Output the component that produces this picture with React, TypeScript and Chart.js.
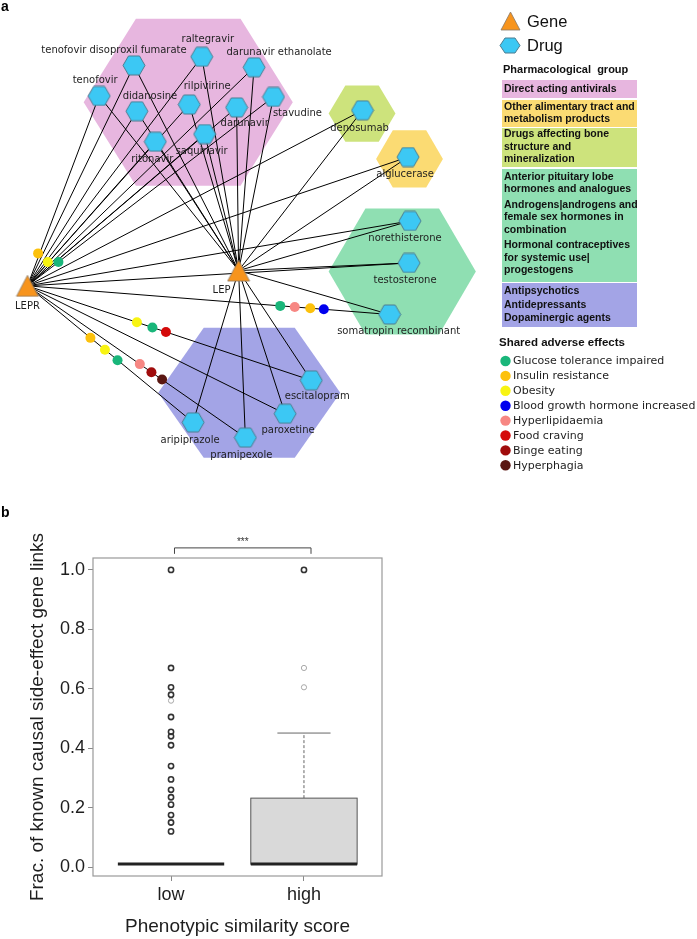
import React, { useEffect, useRef } from 'react';
import { Chart, registerables } from 'chart.js';

Chart.register(...registerables);

// ================= Panel a : gene–drug network =================
const geneNames = ['LEPR', 'LEP'];
const geneX = [17, 235];
const geneY = [288, 272];

const drugNames = [
  'tenofovir disoproxil fumarate', 'raltegravir', 'darunavir ethanolate', 'tenofovir',
  'didanosine', 'rilpivirine', 'darunavir', 'stavudine', 'ritonavir', 'saquinavir',
  'denosumab', 'alglucerase', 'norethisterone', 'testosterone', 'somatropin recombinant',
  'escitalopram', 'paroxetine', 'pramipexole', 'aripiprazole',
];
const drugGroup = [0, 0, 0, 0, 0, 0, 0, 0, 0, 0, 2, 1, 3, 3, 3, 4, 4, 4, 4];
const drugX = [127, 197, 251, 91, 130, 184, 233, 271, 149, 200, 363, 410, 412, 411, 391, 310, 283, 242, 188];
const drugY = [57, 48, 59, 89, 105, 98, 101, 90, 137, 129, 104, 153, 220, 264, 318, 387, 422, 447, 431];

// links: every drug is linked to both genes
const linksLEPR = [0, 1, 2, 3, 4, 5, 6, 7, 8, 9, 10, 11, 12, 13, 14, 15, 16, 17, 18];
const linksLEP = [0, 1, 2, 3, 4, 5, 6, 7, 8, 9, 10, 11, 12, 13, 14, 15, 16, 17, 18];

// pharmacological groups
const groupLegendLines = [
  [['Direct acting antivirals']],
  [['Other alimentary tract and', 'metabolism products']],
  [['Drugs affecting bone', 'structure and', 'mineralization']],
  [['Anterior pituitary lobe', 'hormones and analogues'],
   ['Androgens|androgens and', 'female sex hormones in', 'combination'],
   ['Hormonal contraceptives', 'for systemic use|', 'progestogens']],
  [['Antipsychotics', 'Antidepressants', 'Dopaminergic agents']],
];
const groupColors = ['#e7b6df', '#fbdb73', '#cde37c', '#8fdfb2', '#a3a4e6'];
const groupHexX = [183, 411.5, 362.5, 404, 246];
const groupHexY = [95.5, 155, 107.5, 273, 400];
const groupHexRx = [108, 34.5, 34.5, 76, 94];
const groupHexRy = [87.5, 30, 29.5, 66, 68];

// shared adverse effects
const sideEffectNames = [
  'Glucose tolerance impaired', 'Insulin resistance', 'Obesity', 'Blood growth hormone increased',
  'Hyperlipidaemia', 'Food craving', 'Binge eating', 'Hyperphagia',
];
const sideEffectColors = ['#19b67a', '#fcc10c', '#f8f412', '#0000ee', '#f78783', '#d40a0a', '#a00c0c', '#5a1712'];
const dotEffect = [1, 2, 0, 0, 4, 1, 3, 2, 0, 5, 1, 2, 0, 4, 6, 7];
const dotX = [28, 38, 49, 278, 293, 309, 323, 130, 146, 160, 82, 97, 110, 133, 145, 156];
const dotY = [254, 263, 263, 309, 310.2, 311.4, 312.5, 326.2, 331.6, 336.3, 342.5, 355, 366, 370, 378.5, 386.2];

// label placement (style)
const drugLabelDx = [-20, 6, 25, -4, 13, 18, 8, 24, -3, -3, -3, -3, -5, -4, 9, 6, 3, -4, -3];
const drugLabelDy = [-15, -17, -15, -16, -15, -18, 16, 17, 18, 17, 18, 17, 17, 17, 17, 16, 17, 18, 18];
const geneLabelDx = [0, -17];
const geneLabelDy = [21, 20];

// ================= Panel b : box plot =================
const boxCategories = ['low', 'high'];
const boxQ1 = [0.01, 0.01];
const boxMedian = [0.01, 0.01];
const boxQ3 = [0.01, 0.232];
const whiskerLo = [0.01, 0.01];
const whiskerHi = [0.01, 0.451];
const lowOutliers = [1.0, 0.67, 0.605, 0.58, 0.505, 0.455, 0.44, 0.41, 0.34, 0.295, 0.26, 0.235, 0.21, 0.175, 0.15, 0.12];
const lowOutliersFaint = [0.56];
const highOutliers = [1.0];
const highOutliersFaint = [0.67, 0.605];
const yTickValues = [0, 0.2, 0.4, 0.6, 0.8, 1.0];
const sigFrom = 1.026;
const sigTo = 2.053;
const sigLevel = 1.074;
const sigDrop = 0.02;
const sigLabel = '***';

const SANS = '"Liberation Sans", Arial, sans-serif';
const DEJAVU = '"DejaVu Sans", sans-serif';
const DRUG_FILL = '#3cc8f4';
const DRUG_STROKE = '#4d7d90';
const GENE_FILL = '#f7941d';
const GENE_STROKE = '#8a7866';
const A_HEIGHT = 482;

function hexPath(ctx: any, cx: number, cy: number, rx: number, ry: number) {
  ctx.beginPath();
  ctx.moveTo(cx - rx, cy);
  ctx.lineTo(cx - rx / 2, cy - ry);
  ctx.lineTo(cx + rx / 2, cy - ry);
  ctx.lineTo(cx + rx, cy);
  ctx.lineTo(cx + rx / 2, cy + ry);
  ctx.lineTo(cx - rx / 2, cy + ry);
  ctx.closePath();
}

function makeHex(w: number, h: number) {
  const c = document.createElement('canvas');
  c.width = w; c.height = h;
  const ctx = c.getContext('2d')!;
  hexPath(ctx, w / 2, h / 2, w / 2 - 1, h / 2 - 1);
  ctx.fillStyle = DRUG_FILL; ctx.fill();
  ctx.strokeStyle = DRUG_STROKE; ctx.lineWidth = 1; ctx.stroke();
  return c;
}

function makeTri(w: number, h: number) {
  const c = document.createElement('canvas');
  c.width = w; c.height = h;
  const ctx = c.getContext('2d')!;
  ctx.beginPath();
  ctx.moveTo(w / 2, 1);
  ctx.lineTo(w - 1, h - 1);
  ctx.lineTo(1, h - 1);
  ctx.closePath();
  ctx.fillStyle = GENE_FILL; ctx.fill();
  ctx.strokeStyle = GENE_STROKE; ctx.lineWidth = 0.8; ctx.stroke();
  return c;
}

function networkConfig(): any {
  const hexImg = makeHex(24, 21);
  const triImg = makeTri(24, 23);
  const legHex = makeHex(22, 17);
  const legTri = makeTri(21, 20);

  const datasets: any[] = [];
  const addLinks = (g: number, list: number[]) => {
    list.forEach((d) => {
      datasets.push({
        type: 'scatter',
        data: [{ x: geneX[g], y: geneY[g] }, { x: drugX[d], y: drugY[d] }],
        showLine: true,
        borderColor: '#000',
        borderWidth: 1,
        pointRadius: 0,
        order: 10,
      });
    });
  };
  addLinks(0, linksLEPR);
  addLinks(1, linksLEP);
  datasets.push({
    data: dotX.map((x, i) => ({ x, y: dotY[i] })),
    backgroundColor: dotEffect.map((e) => sideEffectColors[e]),
    borderWidth: 0,
    pointRadius: 5,
    order: 5,
  });
  datasets.push({
    data: drugX.map((x, i) => ({ x, y: drugY[i] })),
    pointStyle: hexImg,
    pointRadius: 10,
    order: 2,
  });
  datasets.push({
    data: geneX.map((x, i) => ({ x, y: geneY[i] })),
    pointStyle: triImg,
    pointRadius: 10,
    order: 1,
  });

  const plugin = {
    id: 'networkDecor',
    beforeDatasetsDraw(chart: any) {
      const { ctx, scales: { x, y } } = chart;
      ctx.save();
      for (let g = 0; g < groupColors.length; g++) {
        const cx = x.getPixelForValue(groupHexX[g]);
        const cy = y.getPixelForValue(groupHexY[g]);
        const rx = Math.abs(x.getPixelForValue(groupHexX[g] + groupHexRx[g]) - cx);
        const ry = Math.abs(y.getPixelForValue(groupHexY[g] + groupHexRy[g]) - cy);
        hexPath(ctx, cx, cy, rx, ry);
        ctx.fillStyle = groupColors[g];
        ctx.fill();
      }
      ctx.restore();
    },
    afterDatasetsDraw(chart: any) {
      const { ctx, scales: { x, y } } = chart;
      ctx.save();
      ctx.font = `10px ${DEJAVU}`;
      ctx.fillStyle = '#1e1e1e';
      ctx.textAlign = 'center';
      ctx.textBaseline = 'middle';
      drugNames.forEach((n, i) => {
        ctx.fillText(n, x.getPixelForValue(drugX[i]) + drugLabelDx[i], y.getPixelForValue(drugY[i]) + drugLabelDy[i]);
      });
      geneNames.forEach((n, i) => {
        ctx.fillText(n, x.getPixelForValue(geneX[i]) + geneLabelDx[i], y.getPixelForValue(geneY[i]) + geneLabelDy[i]);
      });
      ctx.restore();
    },
    afterDraw(chart: any) {
      const { ctx } = chart;
      ctx.save();
      ctx.textBaseline = 'middle';
      ctx.textAlign = 'left';
      // panel letter
      ctx.fillStyle = '#000';
      ctx.font = `bold 14px ${SANS}`;
      ctx.fillText('a', 1, 7);
      // node type legend
      ctx.drawImage(legTri, 500, 11);
      ctx.drawImage(legHex, 499, 37);
      ctx.fillStyle = '#111';
      ctx.font = `16.5px ${SANS}`;
      ctx.fillText('Gene', 527, 22);
      ctx.fillText('Drug', 527, 46);
      // pharmacological group legend
      ctx.font = `bold 11px ${SANS}`;
      ctx.fillText('Pharmacological  group', 503, 70);
      const boxTop = [80, 100, 128, 169, 283];
      const boxBottom = [98, 127, 167, 282, 327];
      const firstLine = [89, 107, 134.5, 177, 291];
      const lineGap = [12.5, 12, 12.5, 12.5, 13.8];
      for (let g = 0; g < groupLegendLines.length; g++) {
        ctx.fillStyle = groupColors[g];
        ctx.fillRect(502, boxTop[g], 135, boxBottom[g] - boxTop[g]);
        ctx.fillStyle = '#111';
        ctx.font = `bold 10.5px ${SANS}`;
        let yy = firstLine[g];
        groupLegendLines[g].forEach((block, bi) => {
          if (bi > 0) yy += 3;
          block.forEach((line) => {
            ctx.fillText(line, 504, yy);
            yy += lineGap[g];
          });
        });
      }
      // shared adverse effects legend
      ctx.font = `bold 11.5px ${SANS}`;
      ctx.fillStyle = '#111';
      ctx.fillText('Shared adverse effects', 499, 343);
      ctx.font = `11px ${DEJAVU}`;
      sideEffectNames.forEach((n, i) => {
        const yy = 361 + i * 14.9;
        ctx.beginPath();
        ctx.arc(505.5, yy, 5.2, 0, Math.PI * 2);
        ctx.fillStyle = sideEffectColors[i];
        ctx.fill();
        ctx.fillStyle = '#1e1e1e';
        ctx.fillText(n, 513, yy + 0.5);
      });
      ctx.restore();
    },
  };

  return {
    type: 'scatter',
    data: { datasets },
    options: {
      responsive: false,
      maintainAspectRatio: false,
      animation: false,
      devicePixelRatio: 1,
      events: [],
      layout: { padding: 0 },
      plugins: { legend: { display: false }, tooltip: { enabled: false } },
      scales: {
        x: { type: 'linear', min: 0, max: 697, display: false },
        y: { type: 'linear', min: 0, max: A_HEIGHT, reverse: true, display: false },
      },
    },
    plugins: [plugin],
  };
}

function boxConfig(): any {
  const BOX_W = 0.8;
  const pts = (xv: number, arr: number[]) => arr.map((v) => ({ x: xv, y: v }));
  const datasets = [
    { data: [...pts(1, lowOutliers), ...pts(2, highOutliers)], pointRadius: 2.6, borderWidth: 1.6, borderColor: '#333', backgroundColor: 'rgba(0,0,0,0)' },
    { data: [...pts(1, lowOutliersFaint), ...pts(2, highOutliersFaint)], pointRadius: 2.6, borderWidth: 1, borderColor: '#a8a8a8', backgroundColor: 'rgba(0,0,0,0)' },
  ];

  const plugin = {
    id: 'boxDecor',
    beforeDatasetsDraw(chart: any) {
      const { ctx, scales: { x, y } } = chart;
      ctx.save();
      boxCategories.forEach((_, i) => {
        const xc = x.getPixelForValue(i + 1);
        const half = x.getPixelForValue(i + 1 + BOX_W / 2) - xc;
        const yq1 = y.getPixelForValue(boxQ1[i]);
        const yq3 = y.getPixelForValue(boxQ3[i]);
        const ylo = y.getPixelForValue(whiskerLo[i]);
        const yhi = y.getPixelForValue(whiskerHi[i]);
        const ymed = y.getPixelForValue(boxMedian[i]);
        if (whiskerHi[i] > boxQ3[i]) {
          ctx.strokeStyle = '#666';
          ctx.lineWidth = 1;
          ctx.setLineDash([3, 2]);
          ctx.beginPath(); ctx.moveTo(xc, yq3); ctx.lineTo(xc, yhi); ctx.stroke();
          ctx.setLineDash([]);
          ctx.beginPath(); ctx.moveTo(xc - half / 2, yhi); ctx.lineTo(xc + half / 2, yhi); ctx.stroke();
        }
        if (whiskerLo[i] < boxQ1[i]) {
          ctx.strokeStyle = '#666';
          ctx.setLineDash([3, 2]);
          ctx.beginPath(); ctx.moveTo(xc, yq1); ctx.lineTo(xc, ylo); ctx.stroke();
          ctx.setLineDash([]);
          ctx.beginPath(); ctx.moveTo(xc - half / 2, ylo); ctx.lineTo(xc + half / 2, ylo); ctx.stroke();
        }
        if (boxQ3[i] > boxQ1[i]) {
          ctx.fillStyle = '#d9d9d9';
          ctx.fillRect(xc - half, yq3, 2 * half, yq1 - yq3);
          ctx.strokeStyle = '#555';
          ctx.lineWidth = 1;
          ctx.strokeRect(xc - half, yq3, 2 * half, yq1 - yq3);
        }
        ctx.strokeStyle = '#222';
        ctx.lineWidth = 3;
        ctx.beginPath(); ctx.moveTo(xc - half, ymed); ctx.lineTo(xc + half, ymed); ctx.stroke();
      });
      ctx.restore();
    },
    afterDraw(chart: any) {
      const { ctx, chartArea: a, scales: { x, y } } = chart;
      ctx.save();
      ctx.strokeStyle = '#999';
      ctx.lineWidth = 1.2;
      ctx.strokeRect(a.left, a.top, a.right - a.left, a.bottom - a.top);
      // significance bracket
      const x1 = x.getPixelForValue(sigFrom);
      const x2 = x.getPixelForValue(sigTo);
      const yl = y.getPixelForValue(sigLevel);
      const yd = y.getPixelForValue(sigLevel - sigDrop);
      ctx.strokeStyle = '#444';
      ctx.lineWidth = 1;
      ctx.beginPath();
      ctx.moveTo(x1, yd); ctx.lineTo(x1, yl); ctx.lineTo(x2, yl); ctx.lineTo(x2, yd);
      ctx.stroke();
      ctx.fillStyle = '#333';
      ctx.font = `10px ${SANS}`;
      ctx.textAlign = 'center';
      ctx.textBaseline = 'middle';
      ctx.fillText(sigLabel, (x1 + x2) / 2, yl - 6);
      // panel letter
      ctx.fillStyle = '#000';
      ctx.font = `bold 14px ${SANS}`;
      ctx.textAlign = 'left';
      ctx.fillText('b', 1, 43);
      ctx.restore();
    },
  };

  return {
    type: 'scatter',
    data: { datasets },
    options: {
      responsive: false,
      maintainAspectRatio: false,
      animation: false,
      devicePixelRatio: 1,
      events: [],
      layout: { padding: { left: 0, top: 88, right: 315, bottom: 0 } },
      plugins: { legend: { display: false }, tooltip: { enabled: false } },
      scales: {
        x: {
          type: 'linear',
          min: 0.413,
          max: 2.587,
          afterBuildTicks: (s: any) => { s.ticks = boxCategories.map((_, i) => ({ value: i + 1 })); },
          afterFit: (s: any) => { s.height = 63; },
          ticks: {
            autoSkip: false,
            maxRotation: 0,
            padding: 3,
            color: '#1e1e1e',
            font: { family: SANS, size: 18 },
            callback: (v: any) => boxCategories[Math.round(v) - 1],
          },
          grid: { display: true, drawOnChartArea: false, drawTicks: true, tickLength: 5, color: '#888' },
          border: { display: false },
          title: {
            display: true,
            text: 'Phenotypic similarity score',
            color: '#1e1e1e',
            font: { family: SANS, size: 19, lineHeight: 1.2 },
            padding: { top: 0, bottom: 1 },
          },
        },
        y: {
          type: 'linear',
          min: -0.03,
          max: 1.04,
          afterBuildTicks: (s: any) => { s.ticks = yTickValues.map((v) => ({ value: v })); },
          afterFit: (s: any) => { s.width = 93; },
          ticks: {
            padding: 3,
            color: '#1e1e1e',
            font: { family: SANS, size: 18 },
            callback: (v: any) => Number(v).toFixed(1),
          },
          grid: { display: true, drawOnChartArea: false, drawTicks: true, tickLength: 5, color: '#888' },
          border: { display: false },
          title: {
            display: true,
            text: 'Frac. of known causal side-effect gene links',
            color: '#1e1e1e',
            font: { family: SANS, size: 19, lineHeight: 1.2 },
            padding: { top: 26, bottom: 0 },
          },
        },
      },
    },
    plugins: [plugin],
  };
}

export default function App() {
  const aRef = useRef<HTMLCanvasElement>(null);
  const bRef = useRef<HTMLCanvasElement>(null);
  useEffect(() => {
    const ca = new Chart(aRef.current!, networkConfig());
    const cb = new Chart(bRef.current!, boxConfig());
    return () => { ca.destroy(); cb.destroy(); };
  }, []);
  return (
    <div style={{ position: 'absolute', left: 0, top: 0, width: 697, height: 939, background: '#fff' }}>
      <canvas ref={aRef} width={697} height={A_HEIGHT} style={{ position: 'absolute', left: 0, top: 0, width: 697, height: A_HEIGHT }} />
      <canvas ref={bRef} width={697} height={469} style={{ position: 'absolute', left: 0, top: 470, width: 697, height: 469 }} />
    </div>
  );
}
